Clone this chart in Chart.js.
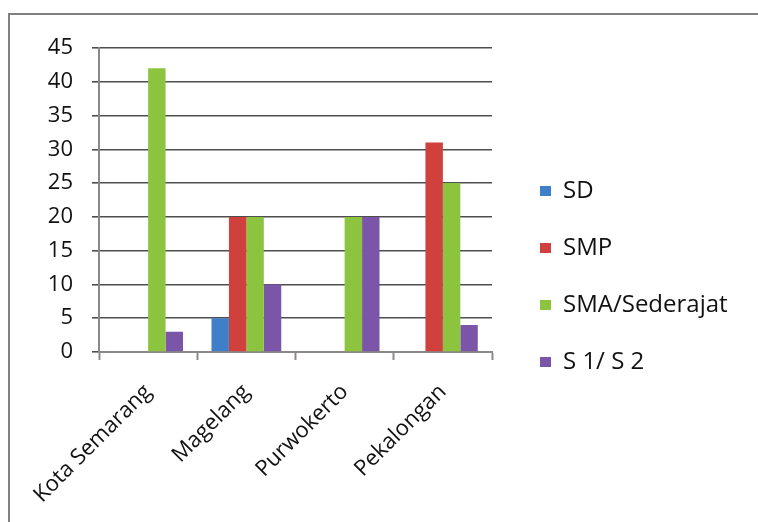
<!DOCTYPE html>
<html>
<head>
<meta charset="utf-8">
<script src="https://cdn.jsdelivr.net/npm/chart.js@4/dist/chart.umd.min.js"></script>
<style>
  html, body { margin: 0; padding: 0; background: #ffffff; }
  #wrap { position: relative; width: 758px; height: 522px; overflow: hidden; background: #ffffff; }
  #frame { position: absolute; left: 8px; top: 13px; width: 800px; height: 600px;
           border-left: 2px solid #858080; border-top: 2px solid #858080; }
  canvas { position: absolute; left: 0; top: 0; }
</style>
</head>
<body>
<div id="wrap">
  <div id="frame"></div>
  <canvas id="chart" width="758" height="522"></canvas>
</div>
<script>
// Respondents by education level in each city
const cities = ['Kota Semarang', 'Magelang', 'Purwokerto', 'Pekalongan'];
const seriesNames = ['SD', 'SMP', 'SMA/Sederajat', 'S 1/ S 2'];
const sdValues  = [0, 5, 0, 0];
const smpValues = [0, 20, 0, 31];
const smaValues = [42, 20, 20, 25];
const s12Values = [3, 10, 20, 4];
const yTickValues = [0, 5, 10, 15, 20, 25, 30, 35, 40, 45];

const seriesColors = ['#3f7fc9', '#d0403c', '#8dc43f', '#7b55a8'];
const seriesValues = [sdValues, smpValues, smaValues, s12Values];

const AXIS_FONT = { family: '"Open Sans", sans-serif', size: 22 };
const LEGEND_FONT = { family: '"Open Sans", sans-serif', size: 24 };
const AXIS_GREY = '#8c8888';
const GRID_DARK = '#4e4e4e';

// The legend is laid out with a fixed narrow width; afterwards it is moved a bit
// to the right of the plot and widened so its longest label is not clipped.
const legendPlacement = {
  id: 'legendPlacement',
  afterLayout(chart) {
    const lg = chart.legend;
    if (!lg) return;
    lg.left += 15;
    lg.width = 240;
    lg.right = lg.left + lg.width;
  }
};

new Chart(document.getElementById('chart'), {
  type: 'bar',
  data: {
    labels: cities,
    datasets: seriesNames.map((name, i) => ({
      label: name,
      data: seriesValues[i],
      backgroundColor: seriesColors[i],
      borderWidth: 0,
      categoryPercentage: 0.71,
      barPercentage: 1.0
    }))
  },
  options: {
    responsive: false,
    animation: false,
    events: [],
    layout: { padding: { left: 20, top: 48, right: 116, bottom: 17 } },
    plugins: {
      tooltip: { enabled: false },
      legend: {
        position: 'right',
        maxWidth: 150,
        labels: {
          font: LEGEND_FONT,
          color: '#111111',
          boxWidth: 11,
          boxHeight: 10,
          padding: 33
        }
      }
    },
    scales: {
      x: {
        ticks: {
          font: AXIS_FONT,
          color: '#111111',
          maxRotation: 45,
          minRotation: 45,
          autoSkip: false,
          padding: 19,
          labelOffset: 0
        },
        grid: {
          display: true,
          offset: true,
          drawOnChartArea: false,
          drawTicks: true,
          tickLength: 8,
          tickColor: AXIS_GREY,
          tickWidth: 2
        },
        border: { display: true, color: AXIS_GREY, width: 2 },
        afterFit(scale) { scale.height = 153; }
      },
      y: {
        min: 0,
        max: 45,
        afterBuildTicks(scale) { scale.ticks = yTickValues.map(v => ({ value: v })); },
        ticks: { font: AXIS_FONT, color: '#111111', padding: 19 },
        grid: {
          color: ctx => (ctx.tick && ctx.tick.value === 0 ? AXIS_GREY : GRID_DARK),
          lineWidth: 1.6,
          drawTicks: true,
          tickLength: 7,
          tickColor: GRID_DARK,
          tickWidth: 1.6
        },
        border: { display: true, color: AXIS_GREY, width: 2 },
        afterFit(scale) { scale.width = 79; }
      }
    }
  },
  plugins: [legendPlacement]
});
</script>
</body>
</html>
